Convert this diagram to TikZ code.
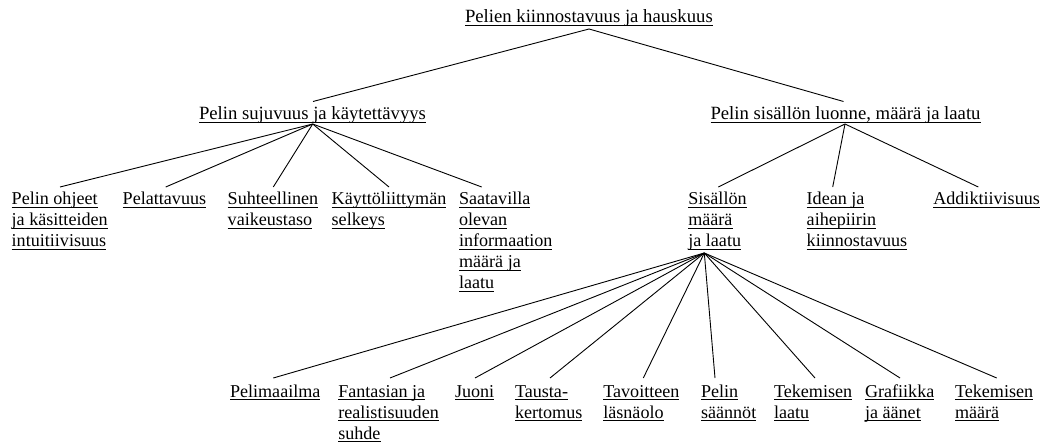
\documentclass[tikz,border=0pt]{standalone}
\usepackage{fontspec}
\setmainfont{Liberation Serif}
\newcommand\myul[1]{\setbox0\hbox{#1}\rlap{\rule[-3pt]{\wd0}{0.9pt}}\box0}
\newcommand\lnx[1]{\raisebox{0pt}[18pt][3pt]{\myul{#1}}}
\tikzset{
  lab/.style={anchor=north west, inner sep=0pt, outer sep=0pt, align=left, font=\fontsize{18.1}{21}\selectfont},
  big/.style={lab, font=\fontsize{18.7}{21}\selectfont},
  edge/.style={line width=0.9pt}
}
\begin{document}
\begin{tikzpicture}[x=1pt,y=-1pt]
\useasboundingbox (0,0) rectangle (1040,443);
% level 1
\node[big] (root) at (465,5) {\lnx{Pelien kiinnostavuus ja hauskuus}};
% level 2
\node[big] (suj) at (199,101.5) {\lnx{Pelin sujuvuus ja käytettävyys}};
\node[big] (sisl) at (710.5,101.5) {\lnx{Pelin sisällön luonne, määrä ja laatu}};
% level 3
\node[lab] (ohj) at (11.7,187) {\lnx{Pelin ohjeet}\\\lnx{ja käsitteiden}\\\lnx{intuitiivisuus}};
\node[lab] (pel) at (122.7,187) {\lnx{Pelattavuus}};
\node[lab] (suh) at (227.7,187) {\lnx{Suhteellinen}\\\lnx{vaikeustaso}};
\node[lab] (kay) at (331.7,187) {\lnx{Käyttöliittymän}\\\lnx{selkeys}};
\node[lab] (saa) at (459,187) {\lnx{Saatavilla}\\\lnx{olevan}\\\lnx{informaation}\\\lnx{määrä ja}\\\lnx{laatu}};
\node[lab] (sis) at (688.3,187) {\lnx{Sisällön}\\\lnx{määrä}\\\lnx{ja laatu}};
\node[lab] (ide) at (806.7,187) {\lnx{Idean ja}\\\lnx{aihepiirin}\\\lnx{kiinnostavuus}};
\node[lab] (add) at (933.3,187) {\lnx{Addiktiivisuus}};
% level 4
\node[lab] (maa) at (230,379) {\lnx{Pelimaailma}};
\node[lab] (fan) at (338.3,379) {\lnx{Fantasian ja}\\\lnx{realistisuuden}\\\lnx{suhde}};
\node[lab] (juo) at (455,379) {\lnx{Juoni}};
\node[lab] (tau) at (515,379) {\lnx{Tausta-}\\\lnx{kertomus}};
\node[lab] (tav) at (603.3,379) {\lnx{Tavoitteen}\\\lnx{läsnäolo}};
\node[lab] (saan) at (701,379) {\lnx{Pelin}\\\lnx{säännöt}};
\node[lab] (tla) at (774,379) {\lnx{Tekemisen}\\\lnx{laatu}};
\node[lab] (gra) at (865,379) {\lnx{Grafiikka}\\\lnx{ja äänet}};
\node[lab] (tma) at (955,379) {\lnx{Tekemisen}\\\lnx{määrä}};
% connectors
\draw[edge] ([xshift=124pt,yshift=-3pt]root.south west) -- ([xshift=114pt]suj.north west);
\draw[edge] ([xshift=124pt,yshift=-3pt]root.south west) -- ([xshift=133pt]sisl.north west);
\foreach \c/\dx in {ohj/48.3,pel/43,suh/45.6,kay/57.3,saa/22.7}
  \draw[edge] ([xshift=113.7pt,yshift=-1.5pt]suj.south west) -- ([xshift=\dx pt]\c.north west);
\foreach \c/\dx in {sis/30,ide/26,add/45}
  \draw[edge] ([xshift=134.5pt,yshift=-1.5pt]sisl.south west) -- ([xshift=\dx pt]\c.north west);
\foreach \c/\dx in {maa/43.3,fan/51.7,juo/20,tau/35,tav/40,saan/14,tla/41,gra/35,tma/41.7}
  \draw[edge] ([xshift=16pt,yshift=-3pt]sis.south west) -- ([xshift=\dx pt,yshift=1pt]\c.north west);
\end{tikzpicture}
\end{document}
